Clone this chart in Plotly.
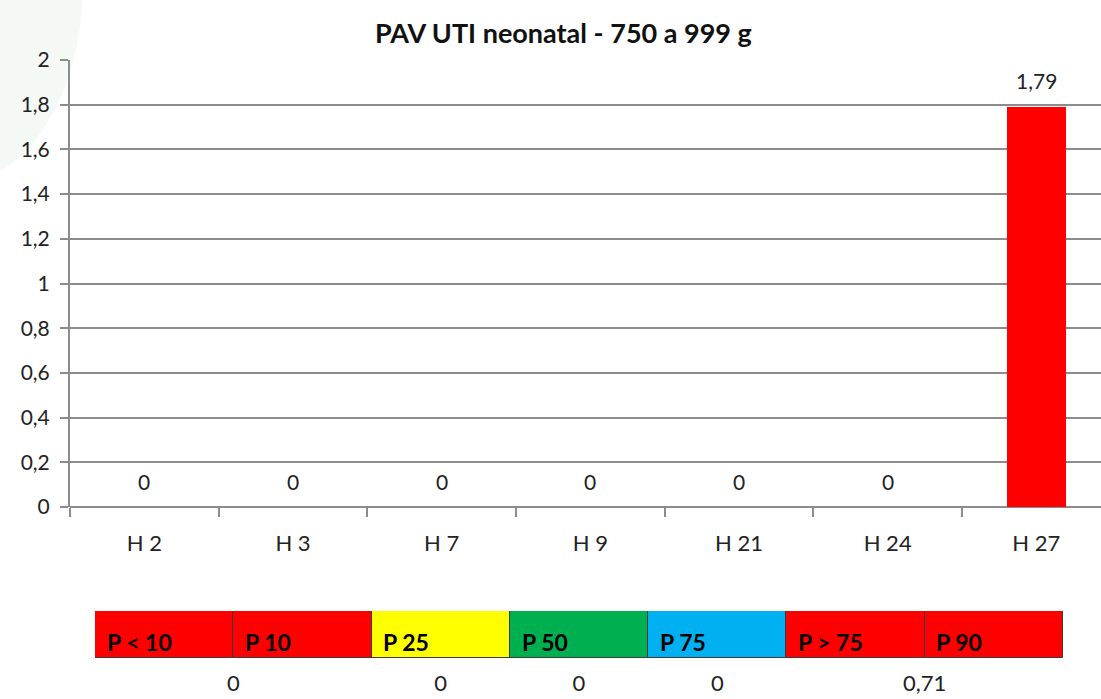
import plotly.graph_objects as go

# ---- data ----
categories = ["H 2", "H 3", "H 7", "H 9", "H 21", "H 24", "H 27"]
values = [0, 0, 0, 0, 0, 0, 1.79]
value_labels = ["0", "0", "0", "0", "0", "0", "1,79"]
bar_color = "#ff0000"

band_labels = ["P < 10", "P 10", "P 25", "P 50", "P 75", "P > 75", "P 90"]
band_colors = ["#ff0000", "#ff0000", "#ffff00", "#00b050", "#00b0f0", "#ff0000", "#ff0000"]
band_values = ["0", "0", "0", "0", "0,71"]
band_value_pos = [1.0, 2.5, 3.5, 4.5, 6.0]

W, H = 1101, 699
FONT = "Lato, 'Open Sans', sans-serif"


def py(px):
    return 1 - px / H


fig = go.Figure()

fig.add_trace(go.Bar(
    x=categories, y=values, marker=dict(color=bar_color, line=dict(width=0)),
    width=0.4, xaxis="x", yaxis="y", showlegend=False, hoverinfo="skip"))

# band (percentile legend)
fig.add_trace(go.Bar(
    y=[23.5] * len(band_labels), x=[1] * len(band_labels),
    base=list(range(len(band_labels))), orientation="h", width=47,
    marker=dict(color=band_colors, line=dict(color="#3a3a3a", width=1)),
    xaxis="x2", yaxis="y2", showlegend=False, hoverinfo="skip"))

fig.add_trace(go.Scatter(
    x=band_value_pos, y=[74] * len(band_values), mode="text", text=band_values,
    textfont=dict(size=22, color="#222", family=FONT),
    xaxis="x2", yaxis="y2", showlegend=False, hoverinfo="skip", cliponaxis=False))

annotations = []
for c, v, t in zip(categories, values, value_labels):
    annotations.append(dict(
        x=c, y=v, xref="x", yref="y", text=t, showarrow=False,
        xanchor="center", yanchor="middle", yshift=26,
        font=dict(size=21, color="#222", family=FONT)))

for i, lab in enumerate(band_labels):
    annotations.append(dict(
        x=i + 0.07, y=31, xref="x2", yref="y2", text="<b>%s</b>" % lab,
        showarrow=False, xanchor="left", yanchor="middle",
        font=dict(size=23, color="#000", family=FONT)))

annotations.append(dict(
    x=563 / W, y=py(33), xref="paper", yref="paper",
    text="<b>PAV UTI neonatal - 750 a 999 g</b>", showarrow=False,
    xanchor="center", yanchor="middle", font=dict(size=27, color="#111", family=FONT)))

fig.update_layout(
    width=W, height=H, margin=dict(l=0, r=0, t=0, b=0, autoexpand=False),
    paper_bgcolor="white", plot_bgcolor="rgba(0,0,0,0)",
    separators=", ", font=dict(family=FONT, color="#222"),
    annotations=annotations,
    xaxis=dict(domain=[70 / W, 1], range=[-0.5, 6.435], type="category",
               showgrid=False, ticks="outside", tickson="boundaries",
               ticklen=9, tickcolor="#8c8c8c", tickwidth=2, automargin=False,
               showline=False, ticklabelstandoff=21,
               tickfont=dict(size=22, color="#222", family=FONT)),
    yaxis=dict(domain=[py(507), py(60)], range=[0, 2], dtick=0.2,
               showgrid=True, gridcolor="#8c8c8c", gridwidth=2,
               showline=True, linecolor="#8c8c8c", linewidth=2,
               ticks="outside", ticklen=8, tickcolor="#8c8c8c", tickwidth=2,
               zeroline=True, zerolinecolor="#8c8c8c", zerolinewidth=2,
               automargin=False, tickfont=dict(size=21, color="#222", family=FONT),
               ticklabelstandoff=6),
    xaxis2=dict(domain=[95 / W, 1063 / W], range=[0, 7], visible=False,
                anchor="y2", fixedrange=True),
    yaxis2=dict(domain=[0, py(611)], range=[88, 0], visible=False,
                anchor="x2", fixedrange=True),
    shapes=[dict(type="circle", xref="paper", yref="paper", layer="below",
                 x0=-0.16, x1=0.075, y0=py(185), y1=1.3,
                 fillcolor="#f4f9f6", line=dict(width=0))],
    bargap=0,
)

fig.write_html("out.html", config={"displayModeBar": False})

# remove default page margins so the figure sits at the window origin
with open("out.html", "r", encoding="utf-8") as f:
    html = f.read()
html = html.replace("<head>", "<head><style>html,body{margin:0;padding:0;overflow:hidden;}</style>", 1)
with open("out.html", "w", encoding="utf-8") as f:
    f.write(html)
